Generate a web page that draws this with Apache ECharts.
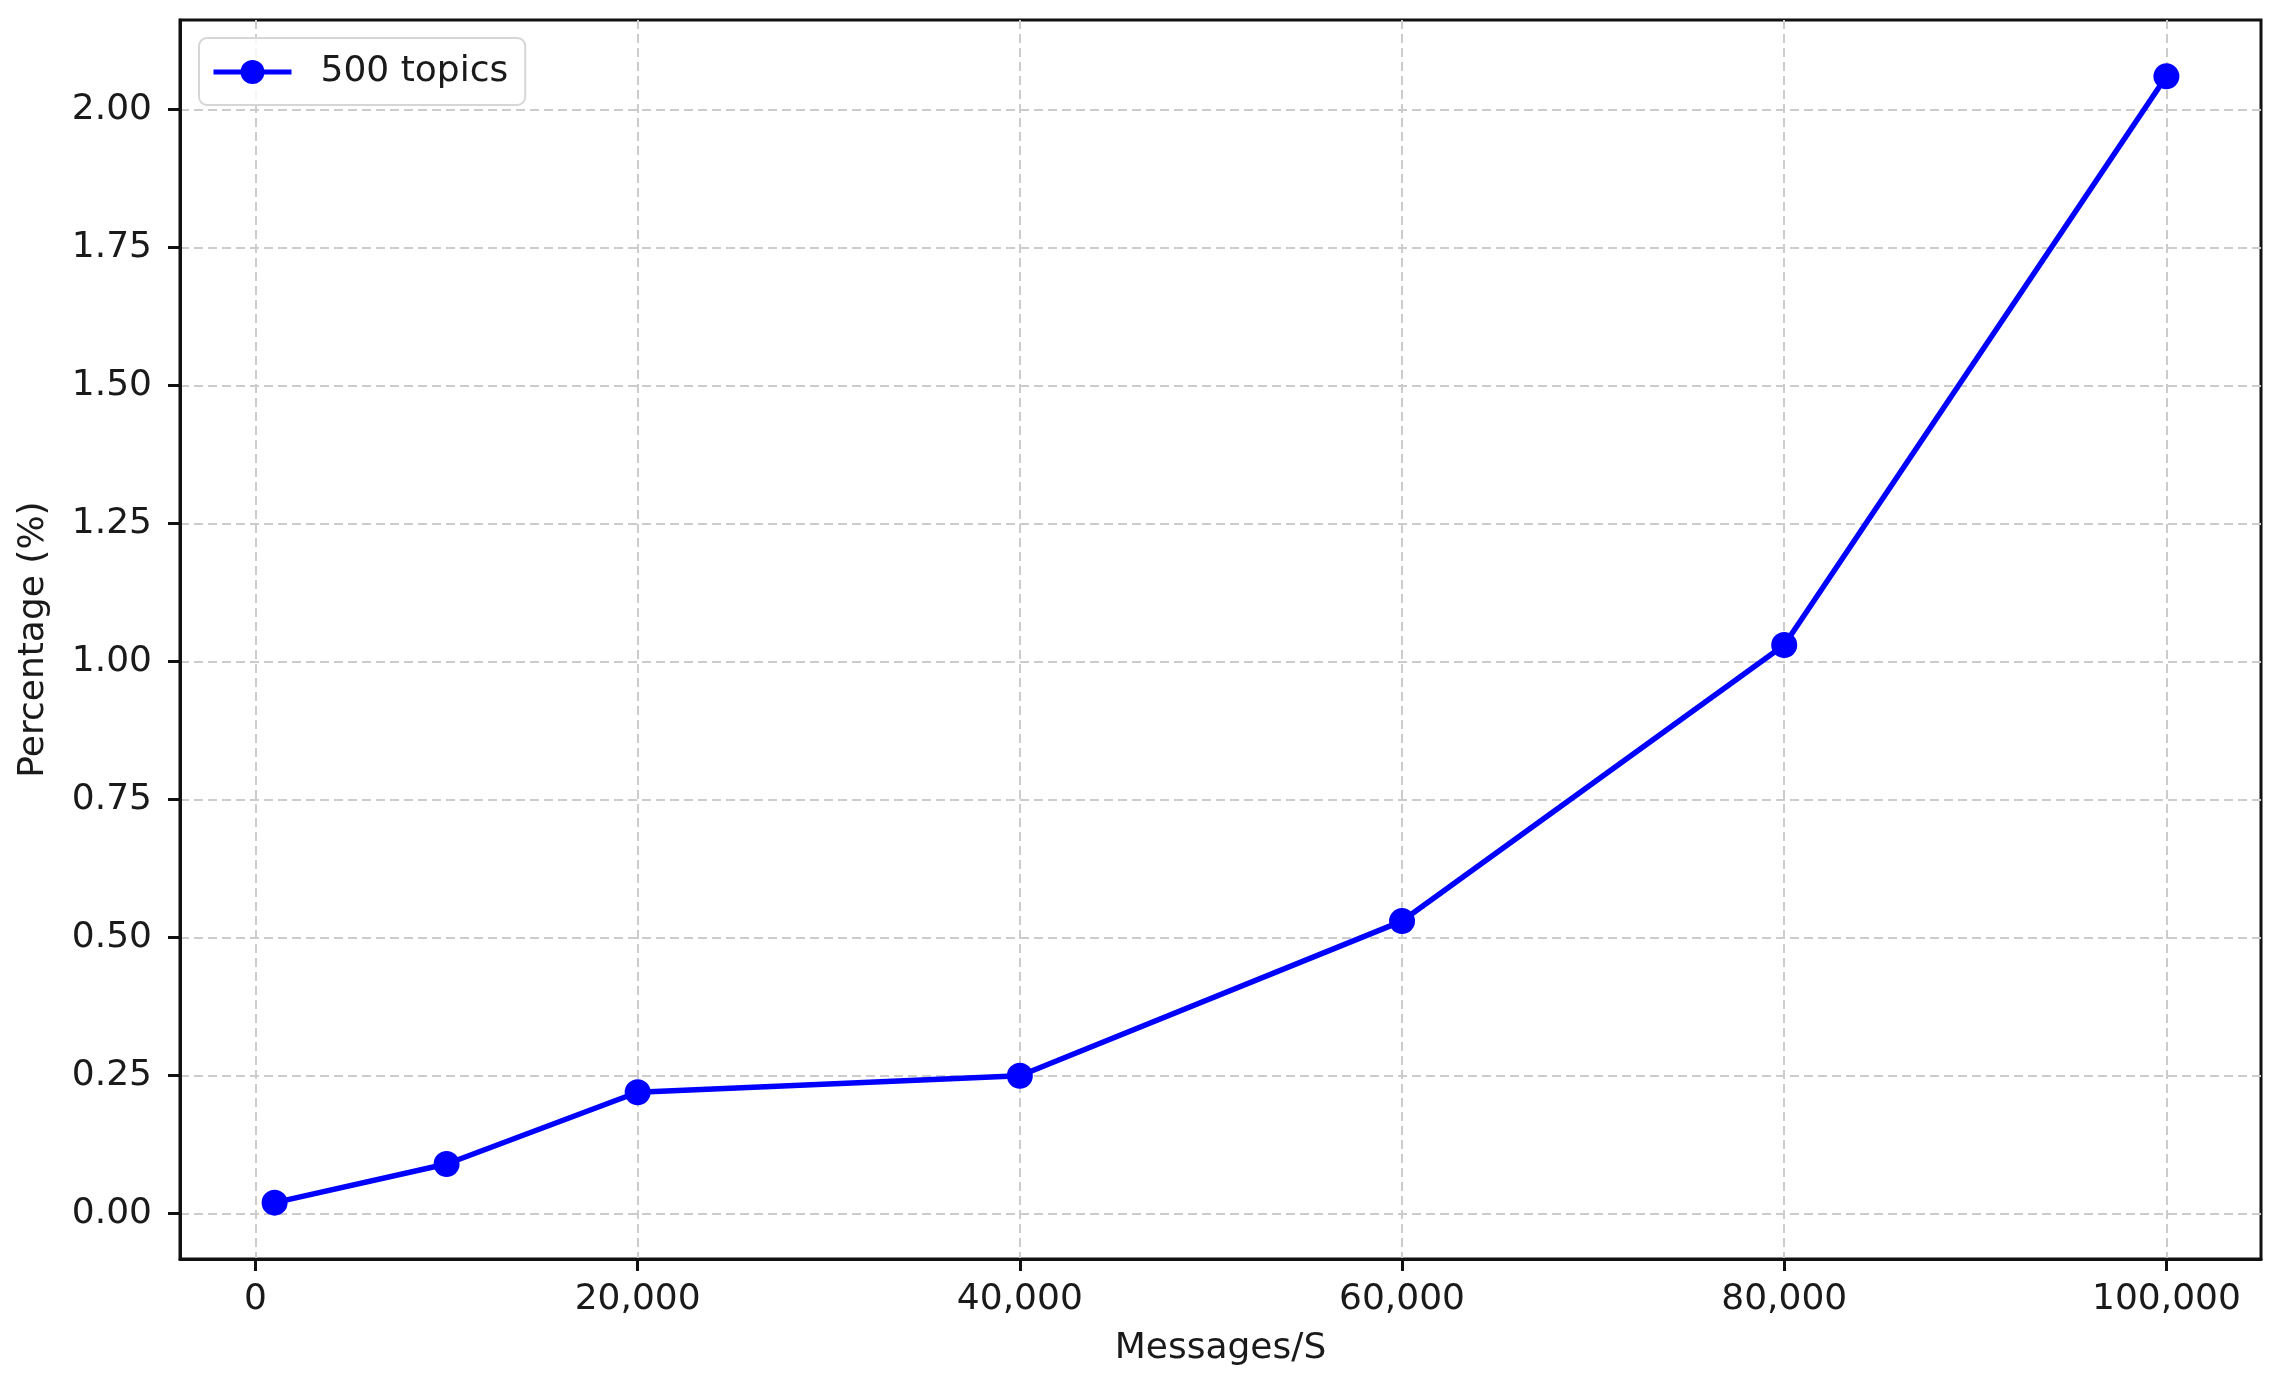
<!DOCTYPE html>
<html>
<head>
<meta charset="utf-8">
<script src="https://cdn.jsdelivr.net/npm/echarts@6/dist/echarts.min.js"></script>
<style>
html,body{margin:0;padding:0;background:#fff;}
#chart{width:2280px;height:1382px;}
</style>
</head>
<body>
<div id="chart"></div>
<script>
const seriesName = '500 topics';
const xValues = [1000, 10000, 20000, 40000, 60000, 80000, 100000];
const yValues = [0.02, 0.09, 0.22, 0.25, 0.53, 1.03, 2.06];
const xTicks = [0, 20000, 40000, 60000, 80000, 100000];
const yTicks = [0, 0.25, 0.5, 0.75, 1.0, 1.25, 1.5, 1.75, 2.0];
const xTitle = 'Messages/S';
const yTitle = 'Percentage (%)';

// matplotlib-style 5% margins
const xr = Math.max(...xValues) - Math.min(...xValues);
const yr = Math.max(...yValues) - Math.min(...yValues);
const xMin = Math.min(...xValues) - 0.05 * xr;
const xMax = Math.max(...xValues) + 0.05 * xr;
const yMin = Math.min(...yValues) - 0.05 * yr;
const yMax = Math.max(...yValues) + 0.05 * yr;

const font = 'DejaVu Sans';
const textColor = '#1a1a1a';
const fs = 36;
const gridLine = {show: true, lineStyle: {color: '#cccccc', width: 2, type: [9, 5]}};

const chart = echarts.init(document.getElementById('chart'), null, {renderer: 'canvas'});
chart.setOption({
  animation: false,
  backgroundColor: '#ffffff',
  textStyle: {fontFamily: font},
  grid: {
    left: 180, right: 19, top: 20, bottom: 123,
    show: true, borderColor: '#111111', borderWidth: 3, backgroundColor: 'transparent'
  },
  legend: {
    left: 199, top: 38,
    orient: 'vertical',
    padding: [16, 17, 15, 12],
    itemWidth: 78, itemHeight: 30,
    borderColor: '#d6d6d6', borderWidth: 2, borderRadius: 8,
    backgroundColor: 'rgba(255,255,255,0.8)',
    lineStyle: {width: 5, color: '#0000ff'},
    itemStyle: {color: '#0000ff'},
    textStyle: {fontFamily: font, fontSize: fs, color: textColor, padding: [0, 0, 0, 24]},
    data: [seriesName]
  },
  xAxis: {
    type: 'value',
    min: xMin, max: xMax,
    name: xTitle, nameLocation: 'middle', nameGap: 72,
    nameTextStyle: {fontFamily: font, fontSize: fs, color: textColor},
    axisLine: {show: true, onZero: false, lineStyle: {color: '#111', width: 3}},
    axisTick: {show: true, customValues: xTicks, length: 12, lineStyle: {color: '#111', width: 3}},
    axisLabel: {
      customValues: xTicks, fontFamily: font, fontSize: fs, color: textColor, margin: 23,
      formatter: v => Math.round(v).toLocaleString('en-US')
    },
    splitLine: gridLine
  },
  yAxis: {
    type: 'value',
    min: yMin, max: yMax,
    name: yTitle, nameLocation: 'middle', nameGap: 128, nameRotate: 90,
    nameTextStyle: {fontFamily: font, fontSize: fs, color: textColor},
    axisLine: {show: true, onZero: false, lineStyle: {color: '#111', width: 3}},
    axisTick: {show: true, customValues: yTicks, length: 12, lineStyle: {color: '#111', width: 3}},
    axisLabel: {
      customValues: yTicks, fontFamily: font, fontSize: fs, color: textColor, margin: 28,
      formatter: v => v.toFixed(2)
    },
    splitLine: gridLine
  },
  series: [{
    name: seriesName,
    type: 'line',
    data: xValues.map((x, i) => [x, yValues[i]]),
    color: '#0000ff',
    symbol: 'circle',
    symbolSize: 26,
    lineStyle: {width: 5.5, color: '#0000ff'},
    itemStyle: {color: '#0000ff'}
  }]
});
</script>
</body>
</html>
